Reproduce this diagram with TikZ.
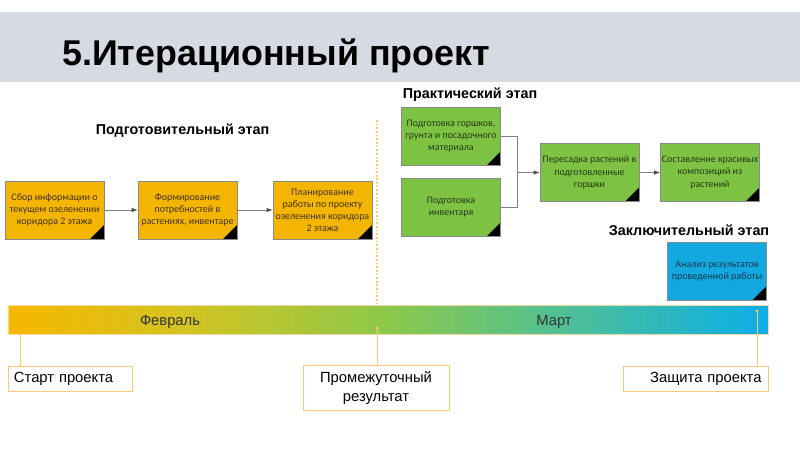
\documentclass[tikz,border=0pt]{standalone}
\usepackage{fontspec}
\setmainfont{Liberation Sans}
\newfontfamily\boxfont{Carlito}
\usetikzlibrary{arrows.meta}

\definecolor{bandgray}{HTML}{D5DAE3}
\definecolor{stepyellow}{HTML}{F4B500}
\definecolor{stepgreen}{HTML}{7DC243}
\definecolor{stepblue}{HTML}{14A8E0}
\definecolor{boxedge}{HTML}{8A8A8A}
\definecolor{linkorange}{HTML}{F9C97C}
\definecolor{tlorange}{HTML}{F7B700}
\definecolor{tlolive}{HTML}{D2C422}
\definecolor{tlgreen}{HTML}{8CC84B}
\definecolor{tlteal}{HTML}{4DBF99}
\definecolor{tlblue}{HTML}{0AAEEA}

\pgfdeclarehorizontalshading{timeline}{100bp}{color(0bp)=(tlorange); color(25bp)=(tlorange); color(37bp)=(tlolive); color(50bp)=(tlgreen); color(62bp)=(tlteal); color(75bp)=(tlblue); color(100bp)=(tlblue)}

\begin{document}
\begin{tikzpicture}[
    stepbox/.style={draw=boxedge, line width=0.5pt, minimum width=2.475cm,
        minimum height=1.45cm, inner sep=0.5pt, align=center,
        font=\boxfont\fontsize{7.1}{8.6}\selectfont,
        path picture={\fill[black] (path picture bounding box.south east)
            -- ++(0,0.35) -- ++(-0.35,-0.35) -- cycle;}},
    prep/.style={stepbox, fill=stepyellow, text=black!72!stepyellow},
    work/.style={stepbox, fill=stepgreen, text=black!70!stepgreen},
    final/.style={stepbox, fill=stepblue, text=black!65!stepblue},
    flow/.style={draw=gray, line width=0.5pt, -{Latex[length=1.5mm,width=1.1mm,color=black!70]}},
    link/.style={draw=gray, line width=0.5pt},
    phase/.style={font=\bfseries\fontsize{10.2}{12}\selectfont},
    mstone/.style={draw=linkorange, fill=white, line width=0.6pt,
        font=\fontsize{10.5}{13}\selectfont},
    pin/.style={draw=linkorange, line width=0.6pt},
    month/.style={font=\fontsize{10.5}{12}\selectfont, text=black!80}
]
\useasboundingbox (0,0) rectangle (20,11.25);

% Title band
\fill[bandgray] (0,9.2) rectangle (20,10.95);
\node[anchor=base west, inner sep=0, font=\bfseries\fontsize{25.5}{30}\selectfont] (title) at (1.55,9.6) {5.Итерационный проект};

% Phase captions
\node[phase] (prepcap) at (4.5625,7.975) {Подготовительный этап};
\node[phase] (workcap) at (11.75,8.875) {Практический этап};
\node[phase] (finalcap) at (17.225,5.5) {Заключительный этап};

% Preparation
\node[prep] (collect) at (1.3625,6.0) {Сбор информации о\\текущем озеленении\\коридора 2 этажа};
\node[prep] (needs) at (4.6875,6.0) {Формирование\\потребностей в\\растениях, инвентаре};
\node[prep] (plan) at (8.0625,6.0) {Планирование\\работы по проекту\\озеленения коридора\\2 этажа};
\draw[flow] (collect) -- (needs);
\draw[flow] (needs) -- (plan);

% Separator
\coordinate (septop) at (9.425,8.25);
\draw[linkorange, line width=1pt, dash pattern=on 1.2pt off 1.4pt] (septop) -- (9.425,3.625);

% Practical stage
\node[work] (pots) at (11.275,7.8375) {Подготовка горшков,\\грунта и посадочного\\материала};
\node[work] (tools) at (11.275,6.0625) {Подготовка\\инвентаря};
\node[work] (replant) at (14.7375,6.9375) {Пересадка растений в\\подготовленные\\горшки};
\node[work] (compose) at (17.75,6.9375) {Составление красивых\\композиций из\\растений};
\coordinate (merge) at (12.925,6.9375);
\draw[link] (pots.east) -| (merge);
\draw[link] (tools.east) -| (merge);
\draw[flow] (merge) -- (replant);
\draw[flow] (replant) -- (compose);

% Final stage
\node[final] (review) at (17.925,4.475) {Анализ результатов\\проведенной работы};

% Timeline bar
\node[shade, shading=timeline, draw=linkorange!70, line width=0.5pt,
    minimum width=19cm, minimum height=0.725cm, inner sep=0] (bar) at (9.7,3.2625) {};
\node[month] (feb) at (4.25,3.2) {Февраль};
\node[month] (mar) at (13.85,3.2) {Март};

% Milestones
\node[mstone, minimum width=3.1cm, minimum height=0.6cm, text width=2.8cm,
    inner sep=0.15cm, align=left] (start) at (1.75,1.775) {Старт проекта};
\node[mstone, minimum width=3.65cm, minimum height=1.05cm, text width=3.35cm,
    inner sep=0.15cm, align=center] (midres) at (9.4,1.55) {Промежуточный\\результат};
\node[mstone, minimum width=3.625cm, minimum height=0.6cm, text width=3.3cm,
    inner sep=0.15cm, align=right] (defense) at (17.3875,1.775) {Защита проекта};

\coordinate (pin1) at (0.5,2.9);
\coordinate (pin2) at (9.425,3.05);
\coordinate (pin3) at (18.925,3.475);
\draw[pin] (pin1) -- (pin1 |- start.north);
\fill[linkorange] (pin1 |- start.north) circle (0.04);
\draw[pin] (pin2) -- (pin2 |- midres.north);
\fill[linkorange] (pin2) circle (0.04);
\draw[pin] (pin3) -- (pin3 |- defense.north);
\fill[linkorange] (pin3) circle (0.04);

\end{tikzpicture}
\end{document}
